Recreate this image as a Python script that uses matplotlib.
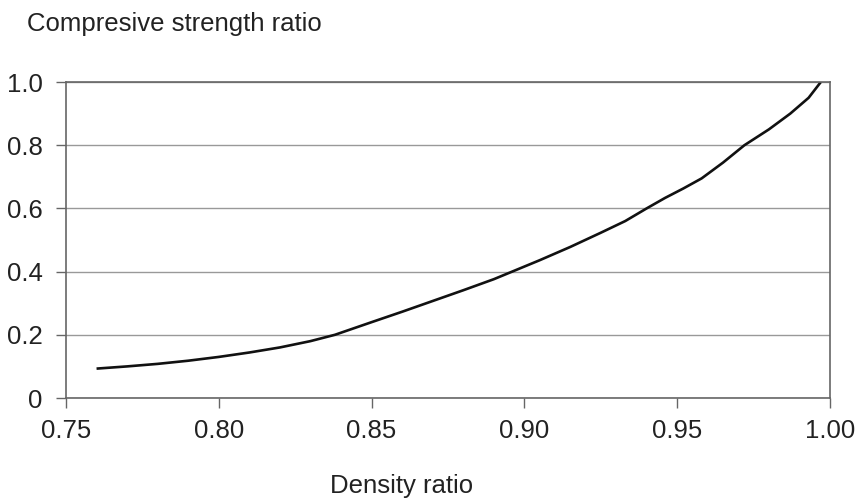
import numpy as np
import matplotlib.pyplot as plt

plt.rcParams['font.family'] = ['Liberation Sans', 'DejaVu Sans']

# 曲线数据
density_ratio = [0.760, 0.770, 0.780, 0.790, 0.800, 0.810, 0.820, 0.830, 0.838,
                 0.850, 0.860, 0.870, 0.880, 0.890, 0.896, 0.905, 0.915, 0.925,
                 0.933, 0.940, 0.946, 0.952, 0.958, 0.965, 0.972, 0.980, 0.987,
                 0.993, 0.997]
strength_ratio = [0.093, 0.100, 0.108, 0.118, 0.130, 0.144, 0.160, 0.180, 0.200,
                  0.240, 0.273, 0.307, 0.341, 0.376, 0.400, 0.436, 0.478, 0.523,
                  0.560, 0.600, 0.633, 0.663, 0.695, 0.745, 0.800, 0.850, 0.900,
                  0.950, 1.000]

x_ticks = [0.75, 0.80, 0.85, 0.90, 0.95, 1.00]
x_labels = ['0.75', '0.80', '0.85', '0.90', '0.95', '1.00']
y_ticks = [0, 0.2, 0.4, 0.6, 0.8, 1.0]
y_labels = ['0', '0.2', '0.4', '0.6', '0.8', '1.0']

fig = plt.figure(figsize=(8.57, 5.0), dpi=100)
ax = fig.add_axes([0.077, 0.204, 0.8915, 0.632])

ax.plot(density_ratio, strength_ratio, color='#111111', lw=1.9, solid_capstyle='butt')

ax.set_xlim(0.75, 1.00)
ax.set_ylim(0, 1.0)
ax.set_xticks(x_ticks)
ax.set_xticklabels(x_labels)
ax.set_yticks(y_ticks)
ax.set_yticklabels(y_labels)

ax.yaxis.grid(True, color='#999999', lw=1.0)
ax.set_axisbelow(True)

for s in ax.spines.values():
    s.set_color('#666666')
    s.set_linewidth(1.2)

ax.tick_params(axis='both', direction='out', length=7, width=1.0,
               color='#666666', labelsize=18.5, labelcolor='#222222')
ax.tick_params(axis='x', pad=8)
ax.tick_params(axis='y', pad=10)

fig.text(0.032, 0.953, 'Compresive strength ratio', fontsize=18.5,
         color='#222222', ha='left', va='center')
fig.text(0.469, 0.027, 'Density ratio', fontsize=18.5,
         color='#222222', ha='center', va='center')

plt.savefig('out.png', dpi=100)
plt.close()
